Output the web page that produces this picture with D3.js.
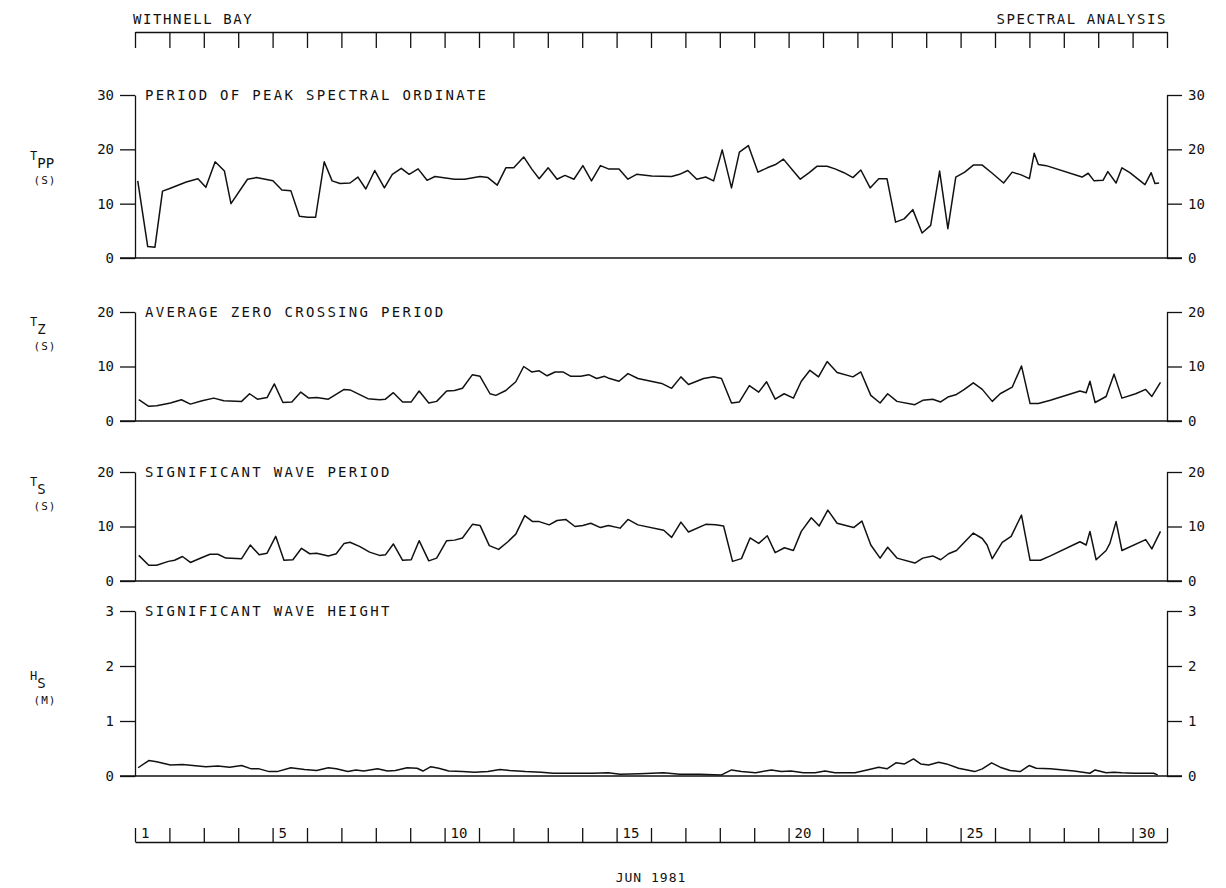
<!DOCTYPE html>
<html>
<head>
<meta charset="utf-8">
<script src="https://cdn.jsdelivr.net/npm/d3@7/dist/d3.min.js"></script>
<style>
  html, body { margin: 0; padding: 0; background: #fff; }
  svg { display: block; }
  text { font-family: "DejaVu Sans Mono", "Liberation Mono", monospace; fill: #111; }
</style>
</head>
<body>
<svg id="chart" width="1226" height="888"></svg>
<script>
// Withnell Bay wave record, June 1981 -- times are days since 1 June 00:00
const tppT = [0.08,0.37,0.58,0.80,1.01,1.49,1.83,2.06,2.33,2.60,2.79,3.27,3.53,4.01,4.27,4.53,4.78,5.02,5.25,5.50,5.73,5.96,6.25,6.48,6.71,6.97,7.25,7.48,7.74,7.97,8.23,8.49,8.72,9.29,9.58,10.03,10.26,10.53,10.78,11.01,11.30,11.53,11.75,12.01,12.27,12.50,12.76,13.02,13.27,13.53,13.76,14.07,14.33,14.58,15.02,15.60,15.83,16.07,16.33,16.59,16.82,17.07,17.34,17.57,17.83,18.11,18.38,18.62,18.85,19.10,19.34,19.60,19.83,20.12,20.35,20.61,20.87,21.10,21.37,21.62,21.86,22.11,22.36,22.61,22.88,23.13,23.39,23.63,23.86,24.12,24.37,24.63,24.92,25.25,25.50,25.76,26.00,26.14,26.26,26.49,27.53,27.71,27.88,28.14,28.28,28.52,28.69,28.92,29.36,29.54,29.65,29.77];
const tppV = [14.2,2.1,2.0,12.3,12.8,14.0,14.6,13.0,17.7,16.0,10.0,14.5,14.8,14.2,12.5,12.4,7.7,7.5,7.5,17.7,14.2,13.7,13.8,14.9,12.7,16.1,12.9,15.4,16.5,15.4,16.4,14.3,15.0,14.5,14.5,15.0,14.8,13.4,16.6,16.6,18.6,16.4,14.6,16.6,14.5,15.2,14.5,17.0,14.2,17.0,16.4,16.4,14.5,15.4,15.1,15.0,15.4,16.1,14.5,14.9,14.2,19.9,12.9,19.5,20.7,15.8,16.6,17.2,18.2,16.3,14.5,15.7,16.9,16.9,16.4,15.7,14.8,16.2,12.9,14.6,14.6,6.6,7.2,8.9,4.6,6.0,16.0,5.4,14.9,15.8,17.1,17.1,15.6,13.8,15.8,15.3,14.6,19.3,17.2,17.0,14.9,15.6,14.2,14.3,15.9,13.8,16.6,15.7,13.5,15.7,13.7,13.8];

const tzT = [0.11,0.40,0.63,1.03,1.35,1.61,1.95,2.29,2.58,3.10,3.33,3.56,3.84,4.05,4.30,4.56,4.82,5.05,5.28,5.62,6.08,6.25,6.77,7.11,7.28,7.51,7.78,8.03,8.26,8.54,8.77,9.06,9.29,9.52,9.81,10.03,10.32,10.49,10.78,11.07,11.30,11.53,11.75,11.98,12.21,12.44,12.67,12.96,13.19,13.42,13.65,13.75,14.07,14.33,14.62,15.31,15.60,15.87,16.09,16.53,16.82,17.05,17.34,17.57,17.86,18.13,18.36,18.61,18.87,19.14,19.37,19.62,19.87,20.12,20.41,20.87,21.10,21.39,21.66,21.88,22.15,22.67,22.90,23.19,23.42,23.63,23.86,24.11,24.37,24.63,24.92,25.15,25.50,25.77,26.02,26.26,26.61,27.47,27.65,27.76,27.91,28.23,28.46,28.69,29.09,29.38,29.56,29.81];
const tzV = [3.9,2.7,2.8,3.3,3.9,3.1,3.7,4.2,3.7,3.6,5.0,4.0,4.3,6.8,3.4,3.5,5.3,4.2,4.3,4.0,5.8,5.7,4.1,3.9,4.0,5.2,3.5,3.5,5.5,3.3,3.6,5.5,5.6,6.0,8.5,8.2,5.0,4.7,5.6,7.2,10.0,9.0,9.2,8.3,9.0,9.0,8.2,8.2,8.5,7.8,8.2,7.9,7.3,8.7,7.8,6.9,6.0,8.1,6.7,7.8,8.1,7.8,3.3,3.5,6.5,5.3,7.2,4.0,5.0,4.2,7.3,9.3,8.1,10.9,8.9,8.1,9.0,4.7,3.3,5.0,3.6,3.0,3.8,4.0,3.5,4.4,4.8,5.8,7.0,5.8,3.6,5.0,6.2,10.1,3.2,3.2,3.8,5.5,5.2,7.3,3.4,4.5,8.6,4.2,5.0,5.8,4.5,7.1];

const tsT = [0.11,0.40,0.63,0.97,1.15,1.38,1.61,1.95,2.18,2.41,2.64,3.10,3.35,3.61,3.84,4.09,4.33,4.59,4.84,5.08,5.28,5.62,5.85,6.08,6.25,6.54,6.82,7.11,7.28,7.51,7.78,8.03,8.26,8.54,8.77,9.06,9.29,9.52,9.81,10.03,10.30,10.57,10.84,11.07,11.33,11.56,11.75,12.04,12.27,12.52,12.79,13.02,13.25,13.53,13.76,14.10,14.33,14.62,15.37,15.60,15.87,16.09,16.59,16.88,17.11,17.37,17.63,17.88,18.13,18.38,18.61,18.88,19.14,19.37,19.66,19.89,20.14,20.41,20.89,21.13,21.39,21.66,21.88,22.15,22.67,22.90,23.19,23.42,23.65,23.88,24.11,24.37,24.63,24.77,24.92,25.21,25.47,25.77,26.02,26.32,26.61,27.47,27.65,27.76,27.94,28.23,28.34,28.52,28.69,29.38,29.56,29.81];
const tsV = [4.7,2.9,2.9,3.6,3.8,4.5,3.4,4.3,4.9,4.9,4.2,4.1,6.6,4.8,5.1,8.2,3.8,3.9,6.0,5.0,5.1,4.6,5.0,6.9,7.1,6.3,5.3,4.7,4.8,6.8,3.8,3.9,7.4,3.7,4.2,7.4,7.5,7.9,10.4,10.2,6.5,5.8,7.2,8.6,12.0,10.9,10.9,10.3,11.1,11.3,10.0,10.2,10.6,9.8,10.2,9.7,11.3,10.3,9.3,8.0,10.8,9.0,10.4,10.3,10.1,3.6,4.1,7.9,6.9,8.3,5.2,6.1,5.6,9.1,11.6,10.1,13.0,10.6,9.8,11.0,6.6,4.2,6.2,4.2,3.3,4.2,4.6,3.9,5.0,5.6,7.1,8.8,7.8,6.6,4.1,7.1,8.2,12.1,3.8,3.8,4.6,7.2,6.6,9.1,3.9,5.6,6.9,10.9,5.6,7.6,5.9,9.1];

const hsT = [0.09,0.40,0.63,1.03,1.38,2.06,2.41,2.75,3.10,3.38,3.61,3.90,4.13,4.53,4.93,5.28,5.62,5.85,6.19,6.42,6.65,7.05,7.34,7.57,7.91,8.20,8.37,8.60,8.83,9.12,9.52,9.86,10.26,10.61,10.89,11.35,11.81,12.16,12.73,13.30,13.76,14.10,14.67,15.37,15.83,16.41,17.05,17.34,17.63,18.04,18.50,18.79,19.07,19.43,19.77,20.06,20.35,20.93,21.28,21.62,21.86,22.12,22.37,22.63,22.84,23.07,23.36,23.59,23.94,24.41,24.63,24.90,25.15,25.44,25.73,25.99,26.20,26.61,27.30,27.76,27.91,28.23,28.46,28.69,29.04,29.33,29.61,29.73];
const hsV = [0.15,0.28,0.26,0.20,0.21,0.17,0.18,0.16,0.19,0.13,0.13,0.08,0.08,0.15,0.12,0.10,0.15,0.13,0.08,0.11,0.09,0.13,0.09,0.10,0.15,0.14,0.09,0.17,0.14,0.09,0.08,0.07,0.08,0.12,0.10,0.08,0.07,0.05,0.05,0.05,0.06,0.03,0.04,0.06,0.03,0.03,0.02,0.11,0.08,0.06,0.11,0.08,0.09,0.06,0.06,0.09,0.06,0.06,0.11,0.16,0.13,0.24,0.22,0.31,0.22,0.20,0.25,0.22,0.14,0.08,0.13,0.24,0.16,0.10,0.08,0.19,0.14,0.13,0.09,0.05,0.11,0.06,0.07,0.06,0.05,0.05,0.05,0.02];

// Panel definitions
const panelTitles = ["PERIOD OF PEAK SPECTRAL ORDINATE", "AVERAGE ZERO CROSSING PERIOD", "SIGNIFICANT WAVE PERIOD", "SIGNIFICANT WAVE HEIGHT"];
const panelSymbols = ["T", "T", "T", "H"];
const panelSubscripts = ["PP", "Z", "S", "S"];
const panelUnits = ["(S)", "(S)", "(S)", "(M)"];
const panelTicks = [[0, 10, 20, 30], [0, 10, 20], [0, 10, 20], [0, 1, 2, 3]];
const dayLabels = [1, 5, 10, 15, 20, 25, 30];
const headerLeft = "WITHNELL BAY";
const headerRight = "SPECTRAL ANALYSIS";
const footer = "JUN 1981";

const series = [
  { t: tppT, v: tppV },
  { t: tzT, v: tzV },
  { t: tsT, v: tsV },
  { t: hsT, v: hsV }
];

// Page geometry
const left = 135, right = 1167;
const panelBox = [
  { top: 95, bottom: 258, labelY: 160 },
  { top: 312, bottom: 421, labelY: 326 },
  { top: 472, bottom: 581, labelY: 486 },
  { top: 611, bottom: 776, labelY: 680 }
];
const tickLen = 15;

const svg = d3.select("#chart");
const x = d3.scaleLinear().domain([0, 30]).range([left, right]);
const dayTicks = d3.range(0, 31);

const ink = "#111";

// Top day ruler
const topAxis = svg.append("g")
  .attr("transform", `translate(0,32)`)
  .call(d3.axisBottom(x).tickValues(dayTicks).tickSize(16).tickSizeOuter(0).tickFormat(""));
topAxis.selectAll("path, line").attr("stroke", ink).attr("stroke-width", 1.3);

svg.append("text").attr("x", left - 2).attr("y", 24)
  .attr("font-size", 14).attr("letter-spacing", 1.6).text(headerLeft);
svg.append("text").attr("x", right).attr("y", 24)
  .attr("text-anchor", "end")
  .attr("font-size", 14).attr("letter-spacing", 1.6).text(headerRight);

// Panels
series.forEach((s, i) => {
  const box = panelBox[i];
  const ticks = panelTicks[i];
  const y = d3.scaleLinear().domain([0, ticks[ticks.length - 1]]).range([box.bottom, box.top]);
  const g = svg.append("g");

  const la = g.append("g").attr("transform", `translate(${left},0)`)
    .call(d3.axisLeft(y).tickValues(ticks).tickSize(tickLen).tickSizeOuter(0).tickPadding(6).tickFormat(d3.format("d")));
  const ra = g.append("g").attr("transform", `translate(${right},0)`)
    .call(d3.axisRight(y).tickValues(ticks).tickSize(tickLen).tickSizeOuter(0).tickPadding(6).tickFormat(d3.format("d")));
  [la, ra].forEach(a => {
    a.selectAll("path, line").attr("stroke", ink).attr("stroke-width", 1.3);
    a.selectAll("text").attr("font-size", 14).attr("fill", ink)
      .style("font-family", '"DejaVu Sans Mono", monospace');
  });

  // zero line across the panel
  g.append("line")
    .attr("x1", left - tickLen).attr("x2", right + tickLen)
    .attr("y1", y(0)).attr("y2", y(0))
    .attr("stroke", ink).attr("stroke-width", 1.3);

  // panel title
  g.append("text").attr("x", left + 10).attr("y", y(ticks[ticks.length - 1]) + 5)
    .attr("font-size", 14).attr("letter-spacing", 2.3).text(panelTitles[i]);

  // quantity label
  const lab = g.append("text").attr("x", 30).attr("y", box.labelY).attr("font-size", 12);
  lab.append("tspan").text(panelSymbols[i]);
  lab.append("tspan").attr("font-size", 14).attr("dy", 8).text(panelSubscripts[i]);
  g.append("text").attr("x", 45).attr("y", box.labelY + 24)
    .attr("text-anchor", "middle").attr("font-size", 11).attr("letter-spacing", 1)
    .text(panelUnits[i]);

  const pts = s.t.map((t, k) => [t, s.v[k]]);
  g.append("path")
    .datum(pts)
    .attr("fill", "none")
    .attr("stroke", ink)
    .attr("stroke-width", 1.5)
    .attr("stroke-linejoin", "round")
    .attr("d", d3.line().x(d => x(d[0])).y(d => y(d[1])));
});

// Bottom day ruler
const botY = 842;
const botAxis = svg.append("g")
  .attr("transform", `translate(0,${botY})`)
  .call(d3.axisTop(x).tickValues(dayTicks).tickSize(14).tickSizeOuter(0).tickFormat(""));
botAxis.selectAll("path, line").attr("stroke", ink).attr("stroke-width", 1.3);

svg.append("g").selectAll("text")
  .data(dayLabels)
  .join("text")
  .attr("x", d => x(d - 1) + 6)
  .attr("y", botY - 4)
  .attr("font-size", 14)
  .text(d => d);

svg.append("text").attr("x", (left + right) / 2).attr("y", 882)
  .attr("text-anchor", "middle").attr("font-size", 13).attr("letter-spacing", 1)
  .text(footer);
</script>
</body>
</html>
